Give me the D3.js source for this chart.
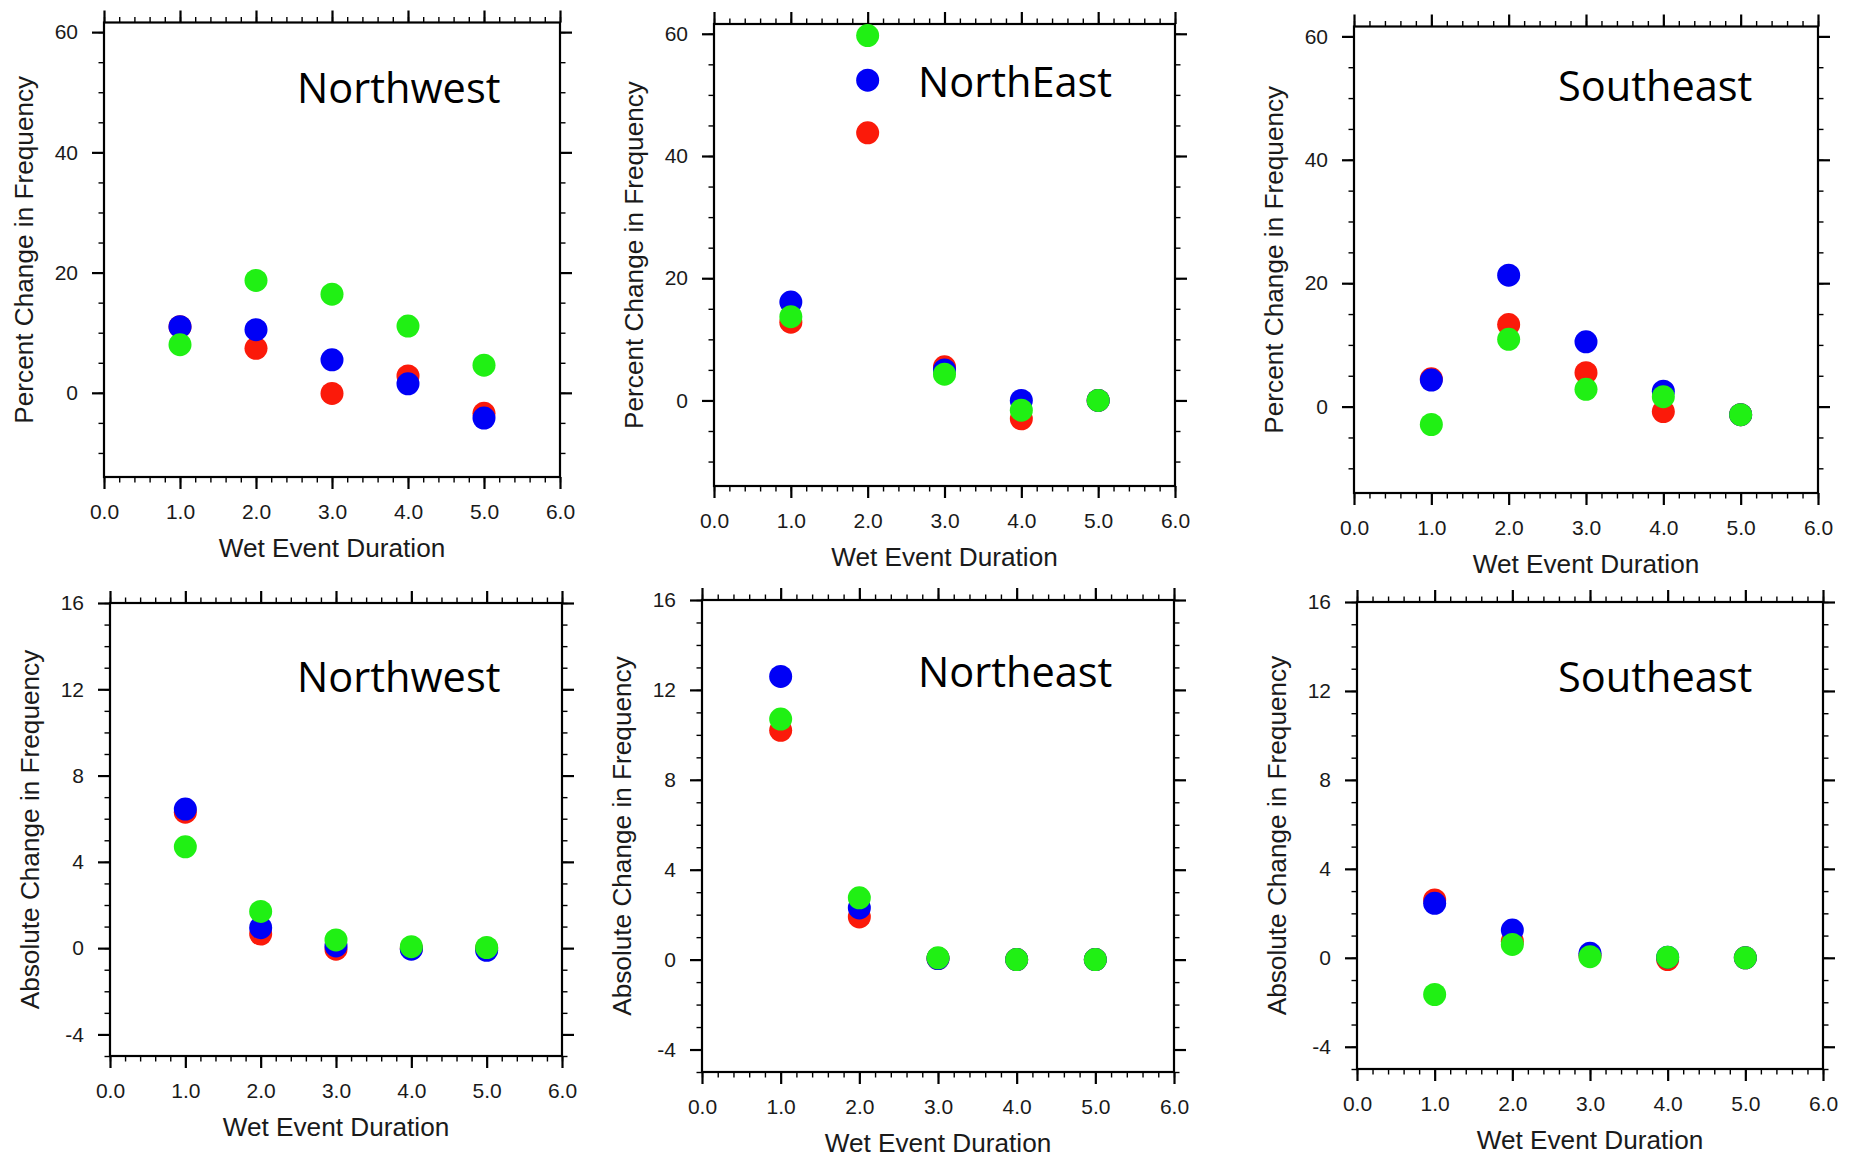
<!DOCTYPE html>
<html>
<head>
    <meta charset="utf-8">
    <title>Wet Event Duration</title>
    <style>
        body { margin: 0; background-color: white; }
        .tick text { font-family: "Liberation Sans", Arial, sans-serif; font-size: 21px; fill: #1a1a1a; }
        .axis-title { font-family: "Liberation Sans", Arial, sans-serif; font-size: 26.2px; fill: #1a1a1a; }
        .region { font-family: "Open Sans", sans-serif; font-size: 41.5px; fill: #000; }
        .frame { fill: none; stroke: #000; stroke-width: 2.2px; }
        .major line { stroke: #000; stroke-width: 2.2px; }
        .minor line { stroke: #000; stroke-width: 1.4px; }
    </style>
    <script src="https://d3js.org/d3.v7.min.js"></script>
</head>
<body>
<svg id="chart" width="1854" height="1159"></svg>
<script>
    // x categories (wet event duration)
    var durations = [1, 2, 3, 4, 5];
    var xTicks = [0, 1, 2, 3, 4, 5, 6];
    var pctTicks = [0, 20, 40, 60];
    var absTicks = [-4, 0, 4, 8, 12, 16];

    // percent change in frequency
    var nwPctRed   = [11.0, 7.4, -0.1, 2.8, -3.4];
    var nwPctBlue  = [11.0, 10.5, 5.5, 1.5, -4.2];
    var nwPctGreen = [8.0, 18.7, 16.4, 11.1, 4.6];
    var nePctRed   = [12.8, 43.8, 5.5, -3.0, 0.0];
    var nePctBlue  = [16.1, 52.4, 5.0, 0.0, 0.0];
    var nePctGreen = [13.7, 59.7, 4.3, -1.6, 0.0];
    var sePctRed   = [4.5, 13.3, 5.5, -0.8, -1.3];
    var sePctBlue  = [4.3, 21.3, 10.5, 2.5, -1.3];
    var sePctGreen = [-2.9, 10.9, 2.8, 1.6, -1.3];

    // absolute change in frequency
    var nwAbsRed   = [6.3, 0.65, -0.05, 0.0, 0.0];
    var nwAbsBlue  = [6.45, 0.95, 0.1, -0.05, -0.1];
    var nwAbsGreen = [4.7, 1.7, 0.38, 0.07, 0.03];
    var neAbsRed   = [10.2, 1.9, 0.05, 0.0, 0.0];
    var neAbsBlue  = [12.6, 2.3, 0.05, 0.0, 0.0];
    var neAbsGreen = [10.7, 2.75, 0.08, 0.0, 0.0];
    var seAbsRed   = [2.6, 0.75, 0.1, -0.08, 0.0];
    var seAbsBlue  = [2.45, 1.25, 0.2, 0.03, 0.0];
    var seAbsGreen = [-1.65, 0.6, 0.05, 0.03, 0.0];

    var red = "#fb1a0a", blue = "#0000f6", green = "#20f014";

    var pctPanel = { ticks: pctTicks, domain: [-14, 61.6], minorStep: 5, label: "Percent Change in Frequency" };
    var absPanel = { ticks: absTicks, domain: [-5, 16], minorStep: 1, label: "Absolute Change in Frequency" };

    // frame boxes [left, top, right, bottom] and title anchor
    var panels = [
        { kind: pctPanel, title: "Northwest", box: [104, 22.5, 560, 477], tx: 297, ty: 103, series: [nwPctRed, nwPctBlue, nwPctGreen] },
        { kind: pctPanel, title: "NorthEast", box: [714, 24, 1175, 486], tx: 918, ty: 97, series: [nePctRed, nePctBlue, nePctGreen] },
        { kind: pctPanel, title: "Southeast", box: [1354, 26.5, 1818, 493], tx: 1558, ty: 101, series: [sePctRed, sePctBlue, sePctGreen] },
        { kind: absPanel, title: "Northwest", box: [110, 603, 562, 1056], tx: 297, ty: 692, series: [nwAbsRed, nwAbsBlue, nwAbsGreen] },
        { kind: absPanel, title: "Northeast", box: [702, 600, 1174, 1072], tx: 918, ty: 687, series: [neAbsRed, neAbsBlue, neAbsGreen] },
        { kind: absPanel, title: "Southeast", box: [1357, 602, 1823, 1069], tx: 1558, ty: 692, series: [seAbsRed, seAbsBlue, seAbsGreen] }
    ];
    var colors = [red, blue, green];

    var svg = d3.select("#chart");

    function drawAxis(g, axisFn, scale, major, minor, fmt) {
        var a1 = g.append("g").attr("class", "minor")
            .call(axisFn(scale).tickValues(minor).tickSize(5.5).tickFormat(""));
        var a2 = g.append("g").attr("class", "major")
            .call(axisFn(scale).tickValues(major).tickSize(12).tickPadding(fmt ? 14 : 0).tickFormat(fmt || ""));
        a1.select(".domain").remove();
        a2.select(".domain").remove();
        return a2;
    }

    panels.forEach(function (p) {
        var b = p.box;
        var w = b[2] - b[0], h = b[3] - b[1];
        var x = d3.scaleLinear().domain([0, 6]).range([0, w]);
        var y = d3.scaleLinear().domain(p.kind.domain).range([h, 0]);
        var g = svg.append("g").attr("transform", "translate(" + b[0] + "," + b[1] + ")");

        var xMinor = d3.range(0, 30.5).map(function (i) { return i / 5; });
        var yMinor = d3.range(Math.ceil(p.kind.domain[0] / p.kind.minorStep), Math.floor(p.kind.domain[1] / p.kind.minorStep) + 1)
            .map(function (i) { return i * p.kind.minorStep; });

        var bottom = drawAxis(g.append("g").attr("transform", "translate(0," + h + ")"),
            d3.axisBottom, x, xTicks, xMinor, d3.format(".1f"));
        bottom.selectAll("text").attr("dy", "0.71em").attr("y", 27);
        drawAxis(g.append("g"), d3.axisTop, x, xTicks, xMinor, null);
        drawAxis(g.append("g"), d3.axisLeft, y, p.kind.ticks, yMinor, function (d) { return String(d); });
        drawAxis(g.append("g").attr("transform", "translate(" + w + ",0)"), d3.axisRight, y, p.kind.ticks, yMinor, null);

        g.append("rect").attr("class", "frame").attr("width", w).attr("height", h);

        // markers: red, then blue, then green on top
        p.series.forEach(function (vals, k) {
            g.append("g").selectAll("circle")
                .data(vals)
                .join("circle")
                .attr("cx", function (d, i) { return x(durations[i]); })
                .attr("cy", function (d) { return y(d); })
                .attr("r", 11.5)
                .attr("fill", colors[k]);
        });

        g.append("text").attr("class", "axis-title")
            .attr("text-anchor", "middle")
            .attr("x", w / 2).attr("y", h + 80)
            .text("Wet Event Duration");
        g.append("text").attr("class", "axis-title")
            .attr("text-anchor", "middle")
            .attr("transform", "translate(-71," + (h / 2) + ") rotate(-90)")
            .text(p.kind.label);

        svg.append("text").attr("class", "region")
            .attr("x", p.tx).attr("y", p.ty)
            .text(p.title);
    });
</script>
</body>
</html>
